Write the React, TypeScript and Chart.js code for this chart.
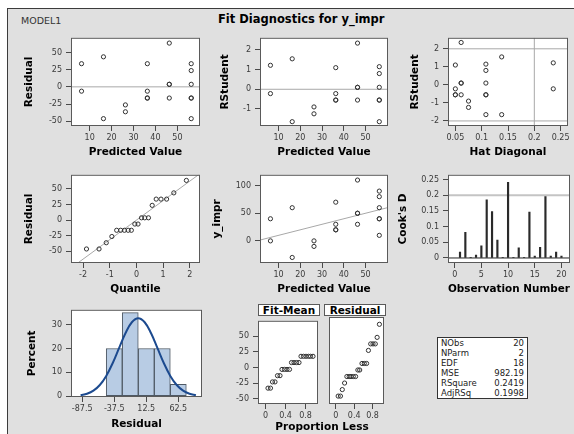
import React, { useEffect, useRef } from 'react';
import Chart from 'chart.js/auto';

const FONT = '"DejaVu Sans", "Liberation Sans", sans-serif';
const TITLE_SIZE = 10.5;

// observations grouped by predicted value
const predicted = [6.3, 6.3, 16.3, 16.3, 26.3, 26.3, 36.3, 36.3, 36.3, 36.3, 46.3, 46.3, 46.3, 46.3, 56.3, 56.3, 56.3, 56.3, 56.3, 56.3];
const yImpr = [40, 0, 60, -30, 0, -10, 70, 30, 20, 20, 110, 50, 50, 30, 90, 80, 60, 40, 40, 10];
const residual = [33.7, -6.3, 43.7, -46.3, -26.3, -36.3, 33.7, -6.3, -16.3, -16.3, 63.7, 3.7, 3.7, -16.3, 33.7, 23.7, 3.7, -16.3, -16.3, -46.3];
const rstudent = [1.22, -0.22, 1.55, -1.65, -0.9, -1.25, 1.1, -0.22, -0.55, -0.55, 2.35, 0.1, 0.1, -0.55, 1.15, 0.8, 0.1, -0.55, -0.55, -1.65];
const hatDiag = [0.236, 0.236, 0.138, 0.138, 0.075, 0.075, 0.05, 0.05, 0.05, 0.05, 0.061, 0.061, 0.061, 0.061, 0.108, 0.108, 0.108, 0.108, 0.108, 0.108];

// Cook's D by observation number
const obsNumber = [1, 2, 3, 4, 5, 6, 7, 8, 9, 10, 11, 12, 13, 14, 15, 16, 17, 18, 19, 20];
const cooksD = [0.019, 0.082, 0.001, 0.009, 0.039, 0.185, 0.148, 0.057, 0.001, 0.241, 0.002, 0.032, 0.001, 0.146, 0.006, 0.034, 0.196, 0.006, 0.019, 0.006];

// normal quantile plot / residual-fit spread
const quantile = [-1.87, -1.4, -1.13, -0.92, -0.74, -0.59, -0.45, -0.31, -0.19, -0.06, 0.06, 0.19, 0.31, 0.45, 0.59, 0.74, 0.92, 1.13, 1.4, 1.87];
const residualSorted = [-46.3, -46.3, -36.3, -26.3, -16.3, -16.3, -16.3, -16.3, -16.3, -6.3, -6.3, 3.7, 3.7, 3.7, 23.7, 33.7, 33.7, 33.7, 43.7, 63.7];
const fitMeanSorted = [-33, -33, -23, -23, -13, -13, -3, -3, -3, -3, 8, 8, 8, 8, 18, 18, 18, 18, 18, 18];
const propLess = [0.05, 0.1, 0.14, 0.19, 0.24, 0.29, 0.33, 0.38, 0.43, 0.48, 0.52, 0.57, 0.62, 0.67, 0.71, 0.76, 0.81, 0.86, 0.9, 0.95];

// histogram of residuals + normal density
const histMid = [-37.5, -12.5, 12.5, 37.5, 62.5];
const histPct = [20, 35, 20, 20, 5];
const curveX = [-90, -80, -70, -60, -50, -40, -30, -20, -10, 0, 10, 20, 30, 40, 50, 60, 70, 80, 90];
const curveY = [0.42, 1.05, 2.35, 4.72, 8.53, 13.84, 20.16, 26.37, 30.99, 32.7, 30.99, 26.37, 20.16, 13.84, 8.53, 4.72, 2.35, 1.05, 0.42];

// fit statistics
const statLabels = ['NObs', 'NParm', 'EDF', 'MSE', 'RSquare', 'AdjRSq'];
const statValues = ['20', '2', '18', '982.19', '0.2419', '0.1998'];

// tick labels
const predTicks = [10, 20, 30, 40, 50];
const residTicks = [-50, -25, 0, 25, 50];
const rstudTicks = [-1, 0, 1, 2];
const rstudHatTicks = [-2, -1, 0, 1, 2];
const hatTicks = [0.05, 0.1, 0.15, 0.2, 0.25];
const qTicks = [-2, -1, 0, 1, 2];
const yImprTicks = [0, 50, 100];
const cookTicks = [0, 0.05, 0.1, 0.15, 0.2, 0.25];
const obsTicks = [0, 5, 10, 15, 20];
const pctTicks = [0, 10, 20, 30];
const histTicks = [-87.5, -37.5, 12.5, 62.5];
const propTicks = [0, 0.4, 0.8];

const pts = (xs: number[], ys: number[]) => xs.map((x, i) => ({ x, y: ys[i] }));

type Box = { l: number; t: number; r: number; b: number };
const PAD = 3;
const Y_W = 60;
const X_H = 36;

function place(box: Box, yW = Y_W, xH = X_H) {
    return { left: box.l - yW, top: box.t - PAD, width: box.r - box.l + yW + PAD, height: box.b - box.t + PAD + xH };
}

interface AxisSpec {
    min: number;
    max: number;
    ticks: number[];
    horizontal: boolean;
    size: number;
    title?: string;
    titleOffset?: number;
    display?: boolean;
}

function axis(s: AxisSpec) {
    const half = TITLE_SIZE * 0.6;
    const off = s.titleOffset ?? 26;
    return {
        type: 'linear',
        display: s.display ?? true,
        min: s.min,
        max: s.max,
        offset: false,
        afterBuildTicks: (a: any) => { a.ticks = s.ticks.map((value) => ({ value })); },
        afterFit: (a: any) => { if (s.horizontal) a.height = s.size; else a.width = s.size; },
        border: { display: false },
        grid: { drawOnChartArea: false, drawTicks: true, tickLength: 5, color: '#4a4a4a', offset: false },
        ticks: {
            color: '#3a3a3a',
            font: { family: FONT, size: 8 },
            padding: s.horizontal ? 2 : 4,
            autoSkip: false,
            maxRotation: 0,
            minRotation: 0,
            callback: (v: number) => String(v),
        },
        title: s.title
            ? {
                display: true,
                text: s.title,
                color: '#000',
                font: { family: FONT, size: TITLE_SIZE, weight: 'bold' },
                padding: s.horizontal ? { top: 0, bottom: s.size - off - half } : { top: s.size - off - half, bottom: 0 },
            }
            : { display: false },
    };
}

// white plot area and dark box around it
const framePlugin = {
    id: 'frame',
    beforeDraw(chart: any) {
        const { ctx, chartArea: a } = chart;
        ctx.save();
        ctx.fillStyle = '#fff';
        ctx.fillRect(a.left, a.top, a.right - a.left, a.bottom - a.top);
        ctx.restore();
    },
    afterDraw(chart: any) {
        const { ctx, chartArea: a } = chart;
        ctx.save();
        ctx.strokeStyle = '#5a5a5a';
        ctx.lineWidth = 1;
        ctx.strokeRect(a.left + 0.5, a.top + 0.5, a.right - a.left - 1, a.bottom - a.top - 1);
        ctx.restore();
    },
};

const baseOptions = (scales: any) => ({
    responsive: false,
    animation: false,
    events: [],
    layout: { padding: { top: PAD, right: PAD, left: 0, bottom: 0 } },
    plugins: { legend: { display: false }, tooltip: { enabled: false } },
    scales,
});

const pointSet = (data: any[]) => ({
    data,
    showLine: false,
    pointRadius: 2.1,
    pointBorderWidth: 1,
    pointBorderColor: '#333',
    pointBackgroundColor: 'rgba(0,0,0,0)',
});

const refLine = (data: any[], color = '#a8a8a8', width = 1) => ({
    type: 'line',
    data,
    showLine: true,
    borderColor: color,
    borderWidth: width,
    pointRadius: 0,
    fill: false,
});

// panel boxes (plot areas)
const B1: Box = { l: 71, t: 32, r: 202, b: 126 };
const B2: Box = { l: 260, t: 32, r: 390, b: 126 };
const B3: Box = { l: 448, t: 32, r: 570, b: 126 };
const B4: Box = { l: 71, t: 169, r: 202, b: 263 };
const B5: Box = { l: 260, t: 169, r: 390, b: 263 };
const B6: Box = { l: 448, t: 169, r: 570, b: 263 };
const B7: Box = { l: 71, t: 304, r: 202, b: 397 };
const B8a: Box = { l: 258, t: 315, r: 320, b: 404 };
const B8b: Box = { l: 324, t: 315, r: 386, b: 404 };

const buildResidPred = () => ({
    type: 'scatter',
    data: { datasets: [pointSet(pts(predicted, residual)), refLine([{ x: 1.5, y: 0 }, { x: 60.3, y: 0 }])] },
    options: baseOptions({
        x: axis({ min: 1.5, max: 60.3, ticks: predTicks, horizontal: true, size: X_H, title: 'Predicted Value' }),
        y: axis({ min: -57, max: 71.4, ticks: residTicks, horizontal: false, size: Y_W, title: 'Residual', titleOffset: 42 }),
    }),
    plugins: [framePlugin],
});

const buildRstudPred = () => ({
    type: 'scatter',
    data: { datasets: [pointSet(pts(predicted, rstudent)), refLine([{ x: 1.5, y: 0 }, { x: 60.3, y: 0 }])] },
    options: baseOptions({
        x: axis({ min: 1.5, max: 60.3, ticks: predTicks, horizontal: true, size: X_H, title: 'Predicted Value' }),
        y: axis({ min: -1.87, max: 2.62, ticks: rstudTicks, horizontal: false, size: Y_W, title: 'RStudent', titleOffset: 35 }),
    }),
    plugins: [framePlugin],
});

const buildRstudHat = () => ({
    type: 'scatter',
    data: {
        datasets: [
            pointSet(pts(hatDiag, rstudent)),
            refLine([{ x: 0.036, y: 2 }, { x: 0.264, y: 2 }]),
            refLine([{ x: 0.036, y: -2 }, { x: 0.264, y: -2 }]),
            refLine([{ x: 0.2, y: -2.28 }, { x: 0.2, y: 2.61 }]),
        ],
    },
    options: baseOptions({
        x: axis({ min: 0.036, max: 0.264, ticks: hatTicks, horizontal: true, size: X_H, title: 'Hat Diagonal' }),
        y: axis({ min: -2.28, max: 2.61, ticks: rstudHatTicks, horizontal: false, size: Y_W, title: 'RStudent', titleOffset: 33 }),
    }),
    plugins: [framePlugin],
});

const buildQQ = () => ({
    type: 'scatter',
    data: { datasets: [pointSet(pts(quantile, residualSorted)), refLine([{ x: -2.5, y: -78.3 }, { x: 2.5, y: 78.3 }])] },
    options: baseOptions({
        x: axis({ min: -2.45, max: 2.38, ticks: qTicks, horizontal: true, size: X_H, title: 'Quantile' }),
        y: axis({ min: -68.8, max: 72.7, ticks: residTicks, horizontal: false, size: Y_W, title: 'Residual', titleOffset: 42 }),
    }),
    plugins: [framePlugin],
});

const buildObsPred = () => ({
    type: 'scatter',
    data: { datasets: [pointSet(pts(predicted, yImpr)), refLine([{ x: 1.5, y: 1.5 }, { x: 60.3, y: 60.3 }])] },
    options: baseOptions({
        x: axis({ min: 1.5, max: 60.3, ticks: predTicks, horizontal: true, size: X_H, title: 'Predicted Value' }),
        y: axis({ min: -40, max: 119.5, ticks: yImprTicks, horizontal: false, size: Y_W, title: 'y_impr', titleOffset: 43 }),
    }),
    plugins: [framePlugin],
});

const buildCooks = () => ({
    type: 'bar',
    data: {
        datasets: [
            refLine([{ x: -1.25, y: 0 }, { x: 21.6, y: 0 }], '#222', 1),
            {
                type: 'bar',
                data: pts(obsNumber, cooksD),
                backgroundColor: '#2a2a2a',
                barThickness: 1.5,
            },
            refLine([{ x: -1.25, y: 0.2 }, { x: 21.6, y: 0.2 }], '#c4c4c4', 2),
        ],
    },
    options: baseOptions({
        x: axis({ min: -1.25, max: 21.6, ticks: obsTicks, horizontal: true, size: X_H, title: 'Observation Number' }),
        y: axis({ min: -0.016, max: 0.265, ticks: cookTicks, horizontal: false, size: Y_W, title: "Cook's D", titleOffset: 45 }),
    }),
    plugins: [framePlugin],
});

const buildHist = () => ({
    type: 'bar',
    data: {
        datasets: [
            { ...refLine(pts(curveX, curveY), '#1c4a8f', 2), tension: 0.4 },
            {
                type: 'bar',
                data: pts(histMid, histPct),
                backgroundColor: '#b8cce4',
                borderColor: '#4f5964',
                borderWidth: 1,
                borderSkipped: false,
                barPercentage: 1,
                categoryPercentage: 1,
            },
        ],
    },
    options: baseOptions({
        x: axis({ min: -105, max: 99.5, ticks: histTicks, horizontal: true, size: X_H, title: 'Residual', titleOffset: 27 }),
        y: axis({ min: -0.3, max: 36.2, ticks: pctTicks, horizontal: false, size: Y_W, title: 'Percent', titleOffset: 39 }),
    }),
    plugins: [framePlugin],
});

const buildSpreadFit = () => ({
    type: 'scatter',
    data: { datasets: [pointSet(pts(propLess, fitMeanSorted))] },
    options: baseOptions({
        x: axis({ min: -0.15, max: 1.05, ticks: propTicks, horizontal: true, size: 22 }),
        y: axis({ min: -58.4, max: 74.9, ticks: residTicks, horizontal: false, size: Y_W }),
    }),
    plugins: [framePlugin],
});

const buildSpreadResid = () => ({
    type: 'scatter',
    data: { datasets: [pointSet(pts(propLess, residualSorted))] },
    options: baseOptions({
        x: axis({ min: -0.15, max: 1.05, ticks: propTicks, horizontal: true, size: 22 }),
        y: axis({ min: -58.4, max: 74.9, ticks: residTicks, horizontal: false, size: 0, display: false }),
    }),
    plugins: [framePlugin],
});

interface PanelProps {
    box: Box;
    build: () => any;
    yW?: number;
    xH?: number;
}

const Panel: React.FC<PanelProps> = ({ box, build, yW, xH }) => {
    const ref = useRef<HTMLCanvasElement>(null);
    const g = place(box, yW, xH);

    useEffect(() => {
        if (!ref.current) return;
        const chart = new Chart(ref.current, build());
        return () => {
            chart.destroy();
        };
    }, [build]);

    return (
        <canvas
            ref={ref}
            width={g.width}
            height={g.height}
            style={{ position: 'absolute', left: g.left, top: g.top, width: g.width, height: g.height }}
        />
    );
};

const header = (box: Box, text: string) => (
    <div
        style={{
            position: 'absolute',
            left: box.l,
            top: box.t - 11,
            width: box.r - box.l,
            height: 12,
            boxSizing: 'border-box',
            border: '1px solid #5a5a5a',
            background: '#fff',
            font: `bold 10.5px ${FONT}`,
            lineHeight: '10px',
            textAlign: 'center',
            color: '#000',
        }}
    >
        {text}
    </div>
);

export default function App() {
    return (
        <div style={{ position: 'fixed', left: 0, top: 0, width: 574, height: 434, background: '#fff', overflow: 'hidden' }}>
            <div
                style={{
                    position: 'absolute',
                    left: 7,
                    top: 8,
                    right: 0,
                    bottom: 0,
                    background: '#e0e0e0',
                    borderLeft: '1px solid #3c3c3c',
                    borderTop: '1px solid #3c3c3c',
                }}
            />
            <div style={{ position: 'absolute', left: 21, top: 14, font: `9.5px ${FONT}`, lineHeight: '13px', color: '#333' }}>MODEL1</div>
            <div style={{ position: 'absolute', left: 218, top: 12, font: `bold 11.5px ${FONT}`, lineHeight: '14px', color: '#000', whiteSpace: 'nowrap' }}>
                Fit Diagnostics for y_impr
            </div>

            <Panel box={B1} build={buildResidPred} />
            <Panel box={B2} build={buildRstudPred} />
            <Panel box={B3} build={buildRstudHat} />
            <Panel box={B4} build={buildQQ} />
            <Panel box={B5} build={buildObsPred} />
            <Panel box={B6} build={buildCooks} />
            <Panel box={B7} build={buildHist} />
            <Panel box={B8a} build={buildSpreadFit} xH={22} />
            <Panel box={B8b} build={buildSpreadResid} yW={0} xH={22} />

            {header(B8a, 'Fit-Mean')}
            {header(B8b, 'Residual')}
            <div style={{ position: 'absolute', left: 222, top: 420, width: 200, textAlign: 'center', font: `bold ${TITLE_SIZE}px ${FONT}`, lineHeight: '13px', color: '#000' }}>
                Proportion Less
            </div>

            <div
                style={{
                    position: 'absolute',
                    left: 437,
                    top: 337,
                    width: 91,
                    height: 62,
                    boxSizing: 'border-box',
                    border: '1px solid #333',
                    background: '#fff',
                    padding: '0 3px 0 3px',
                    font: `8.5px ${FONT}`,
                    color: '#222',
                }}
            >
                {statLabels.map((label, i) => (
                    <div key={label} style={{ display: 'flex', justifyContent: 'space-between', height: 10, lineHeight: '10px' }}>
                        <span>{label}</span>
                        <span>{statValues[i]}</span>
                    </div>
                ))}
            </div>
        </div>
    );
}
